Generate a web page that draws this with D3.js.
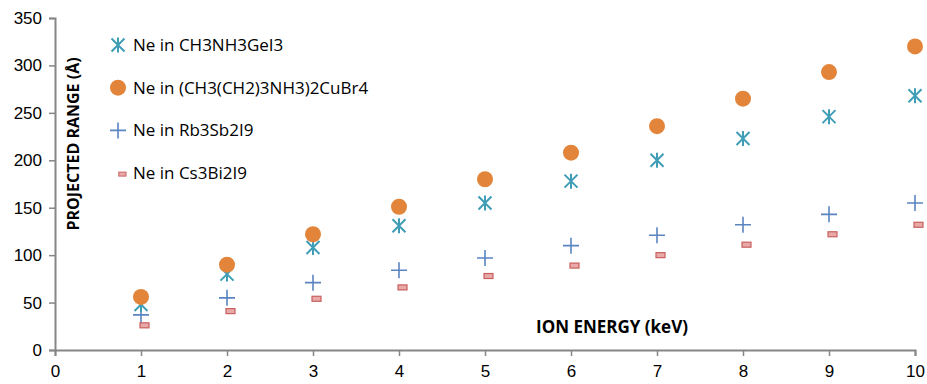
<!DOCTYPE html>
<html>
<head>
<meta charset="utf-8">
<script src="https://cdn.jsdelivr.net/npm/d3@7"></script>
<style>
  html, body { margin: 0; padding: 0; background: #fff; }
  svg { display: block; font-family: "Open Sans", "Liberation Sans", sans-serif; }
</style>
</head>
<body>
<svg id="chart" width="927" height="384"></svg>
<script>
// Ion energy (keV)
const energies = [1, 2, 3, 4, 5, 6, 7, 8, 9, 10];
// Projected range (Å) of Ne ions in each material
const rangeCH3NH3GeI3 = [48, 80, 108, 131, 155, 178, 200, 223, 246, 268];
const rangeButylCuBr4 = [56, 90, 122, 151, 180, 208, 236, 265, 293, 320];
const rangeRb3Sb2I9 = [37, 55, 71, 84, 97, 110, 121, 132, 143, 155];
const rangeCs3Bi2I9 = [26, 41, 54, 66, 78, 89, 100, 111, 122, 132];
const seriesNames = ["Ne in CH3NH3GeI3", "Ne in (CH3(CH2)3NH3)2CuBr4", "Ne in Rb3Sb2I9", "Ne in Cs3Bi2I9"];
const xTicks = [0, 1, 2, 3, 4, 5, 6, 7, 8, 9, 10];
const yTicks = [0, 50, 100, 150, 200, 250, 300, 350];

const series = [
  { name: seriesNames[0], values: rangeCH3NH3GeI3, marker: "star", color: "#3f9db5" },
  { name: seriesNames[1], values: rangeButylCuBr4, marker: "circle", color: "#e2853a" },
  { name: seriesNames[2], values: rangeRb3Sb2I9, marker: "plus", color: "#5b84c2" },
  { name: seriesNames[3], values: rangeCs3Bi2I9, marker: "dash", color: "#c8605e" }
];

const svg = d3.select("#chart");
const margin = { left: 55, right: 12, top: 18, bottom: 34 };
const W = 927, H = 384;

const x = d3.scaleLinear().domain([0, 10]).range([margin.left, W - margin.right]);
const y = d3.scaleLinear().domain([0, 350]).range([H - margin.bottom, margin.top]);

const axisColor = "#868686";

// X axis
const gx = svg.append("g")
  .attr("transform", `translate(0,${y(0)})`)
  .call(d3.axisBottom(x).tickValues(xTicks).tickSize(6).tickPadding(9).tickFormat(d3.format("d")));
gx.select(".domain").attr("stroke", axisColor).attr("stroke-width", 2);
gx.selectAll(".tick line").attr("stroke", axisColor).attr("stroke-width", 1.5);
gx.selectAll(".tick text").attr("fill", "#000").attr("font-size", 17);

// Y axis
const gy = svg.append("g")
  .attr("transform", `translate(${x(0)},0)`)
  .call(d3.axisLeft(y).tickValues(yTicks).tickSize(6).tickPadding(7).tickFormat(d3.format("d")));
gy.select(".domain").attr("stroke", axisColor).attr("stroke-width", 2);
gy.selectAll(".tick line").attr("stroke", axisColor).attr("stroke-width", 1.5);
gy.selectAll(".tick text").attr("fill", "#000").attr("font-size", 17);

// Axis titles
svg.append("text")
  .attr("transform", `translate(79,144) rotate(-90)`)
  .attr("text-anchor", "middle")
  .attr("font-size", 16)
  .attr("font-weight", "bold")
  .attr("fill", "#000")
  .text("PROJECTED RANGE (Å)");

svg.append("text")
  .attr("x", 612)
  .attr("y", 333)
  .attr("text-anchor", "middle")
  .attr("font-size", 17)
  .attr("font-weight", "bold")
  .attr("fill", "#000")
  .text("ION ENERGY (keV)");

// Marker drawing
function drawMarker(g, type, color) {
  if (type === "circle") {
    g.append("circle").attr("r", 8).attr("fill", color);
  } else if (type === "star") {
    const s = 6.5;
    g.append("path")
      .attr("d", `M${-s},${-s}L${s},${s}M${-s},${s}L${s},${-s}M0,${-s - 1}L0,${s + 1}`)
      .attr("stroke", color).attr("stroke-width", 2).attr("fill", "none");
  } else if (type === "plus") {
    const s = 8;
    g.append("path")
      .attr("d", `M${-s},0L${s},0M0,${-s}L0,${s}`)
      .attr("stroke", color).attr("stroke-width", 1.6).attr("fill", "none");
  } else if (type === "dash") {
    g.append("rect").attr("x", -4).attr("y", -2.5).attr("width", 9).attr("height", 5)
      .attr("fill", "#e8a9a8").attr("stroke", color).attr("stroke-width", 1.2);
  }
}

// Data points (drawn back-to-front so circles sit on top of stars)
const drawOrder = [2, 3, 0, 1];
drawOrder.forEach(i => {
  const s = series[i];
  const dx = s.marker === "dash" ? 3 : 0;
  s.values.forEach((v, j) => {
    const g = svg.append("g").attr("transform", `translate(${x(energies[j]) + dx},${y(v)})`);
    drawMarker(g, s.marker, s.color);
  });
});

// Legend
const legend = svg.append("g");
series.forEach((s, i) => {
  const ly = 45 + i * 42.7;
  const gm = legend.append("g").attr("transform", `translate(118,${ly})`);
  if (s.marker === "dash") {
    gm.attr("transform", `translate(122,${ly + 1}) scale(0.8)`);
  }
  drawMarker(gm, s.marker, s.color);
  legend.append("text")
    .attr("x", 133)
    .attr("y", ly + 6)
    .attr("font-size", 17)
    .attr("fill", "#000")
    .text(s.name);
});
</script>
</body>
</html>
